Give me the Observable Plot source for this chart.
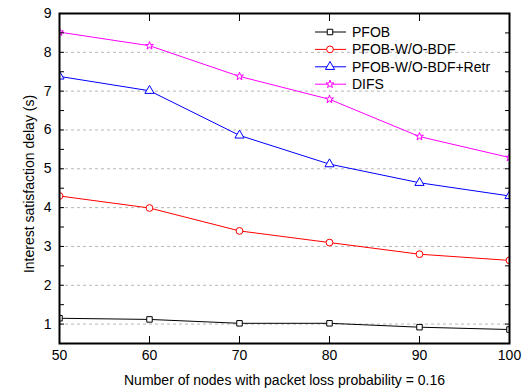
<!DOCTYPE html>
<html><head><meta charset="utf-8">
<script src="https://cdn.jsdelivr.net/npm/d3@7"></script>
<script src="https://cdn.jsdelivr.net/npm/@observablehq/plot@0.6"></script>
<style>body{margin:0;background:#fff;} svg{display:block;}</style>
</head><body><div id="chart"></div>
<script>
const nodes = [50, 60, 70, 80, 90, 100];
const seriesNames = ["PFOB", "PFOB-W/O-BDF", "PFOB-W/O-BDF+Retr", "DIFS"];
const pfob = [1.15, 1.12, 1.02, 1.02, 0.92, 0.86];
const pfobWoBdf = [4.30, 3.99, 3.40, 3.10, 2.80, 2.64];
const pfobWoBdfRetr = [7.38, 7.01, 5.86, 5.12, 4.64, 4.30];
const difs = [8.52, 8.17, 7.38, 6.79, 5.83, 5.29];
const colors = ["#000000", "#ff0000", "#0000ff", "#ff00ff"];
const symbols = ["square", "circle", "triangle", "star"];
const markerR = [3.1, 3.4, 3.4, 2.5];
const xTicks = [50, 60, 70, 80, 90, 100];
const yTicks = [1, 2, 3, 4, 5, 6, 7, 8, 9];
const yMinorTicks = d3.range(0.5, 9.01, 0.5);
const gridLines = [1, 2, 3, 4, 5, 6, 7, 8];
const xLabel = "Number of nodes with packet loss probability = 0.16";
const yLabel = "Interest satisfaction delay (s)";

const allSeries = [pfob, pfobWoBdf, pfobWoBdfRetr, difs];
const data = [];
allSeries.forEach((vals, i) => vals.forEach((v, j) => data.push({series: seriesNames[i], x: nodes[j], y: v})));

const font = "'Liberation Sans', Arial, Helvetica, sans-serif";
const dotMarks = seriesNames.map((name, i) =>
  Plot.dot(data.filter(d => d.series === name), {x: "x", y: "y", symbol: () => symbols[i], stroke: colors[i], fill: "white", r: markerR[i], strokeWidth: 1, clip: true}));
const plot = Plot.plot({
  width: 530, height: 392,
  marginLeft: 59, marginRight: 21, marginTop: 13, marginBottom: 49,
  style: {fontFamily: font, fontSize: "14px", color: "#000", background: "#fff"},
  x: {domain: [50, 100]},
  y: {domain: [0.5, 9]},
  color: {domain: seriesNames, range: colors},
  symbol: {type: "identity"},
  marks: [
    Plot.ruleY(gridLines, {stroke: "#b8b8b8", strokeDasharray: "3,3", strokeWidth: 1}),
    Plot.line(data, {x: "x", y: "y", z: "series", stroke: "series", strokeWidth: 1, clip: true}),
    ...dotMarks,
    Plot.axisY(yTicks, {anchor: "left", tickSize: 0, tickPadding: 8, label: null, fontSize: 14}),
    Plot.axisY(yMinorTicks, {anchor: "left", tickSize: -5, label: null, text: null}),
    Plot.axisY(yMinorTicks, {anchor: "right", tickSize: -5, label: null, text: null}),
    Plot.axisX(xTicks, {anchor: "bottom", tickSize: -7, tickPadding: 14, label: null, fontSize: 14}),
    Plot.axisX(xTicks, {anchor: "top", tickSize: -7, label: null, text: null}),
    Plot.frame({stroke: "#000", strokeWidth: 2}),
    Plot.text([xLabel], {frameAnchor: "bottom", dy: 41, fontSize: 14})
  ]
});
document.getElementById("chart").appendChild(plot);

const svg = d3.select(plot);
// y-axis title
svg.append("text").attr("font-family", font).attr("font-size", 14).attr("text-anchor", "middle")
  .attr("transform", "translate(29,184) rotate(-90)").attr("dy", "0.36em").text(yLabel);

// legend
const lg = svg.append("g").attr("font-family", font).attr("font-size", 14).attr("text-anchor", "start");
const symGen = {square: d3.symbolSquare, circle: d3.symbolCircle, triangle: d3.symbolTriangle, star: d3.symbolStar};
seriesNames.forEach((name, i) => {
  const y = 32 + i * 17.4;
  lg.append("line").attr("x1", 315).attr("x2", 346).attr("y1", y).attr("y2", y)
    .attr("stroke", colors[i]).attr("stroke-width", 1);
  lg.append("path").attr("d", d3.symbol(symGen[symbols[i]], Math.PI * markerR[i] * markerR[i])())
    .attr("transform", `translate(330,${y})`).attr("fill", "white").attr("stroke", colors[i]);
  lg.append("text").attr("x", 352).attr("y", y).attr("dy", "0.36em").text(name);
});
</script></body></html>
